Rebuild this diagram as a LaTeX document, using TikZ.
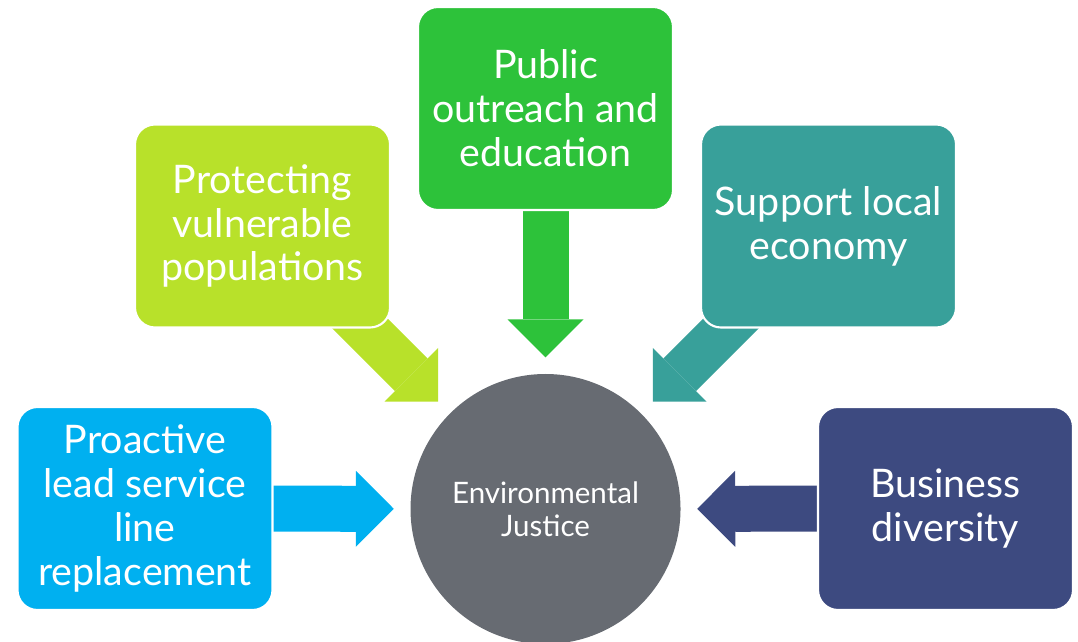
\documentclass[tikz,border=0pt]{standalone}
\usepackage{fontspec}
\setmainfont{Lato}
\usepackage{tikz}
\usetikzlibrary{positioning, calc}
\usetikzlibrary{arrows.meta, backgrounds}

\begin{document}
\begin{tikzpicture}
\definecolor{pubgreen}{RGB}{45,194,58};
\definecolor{limegreen}{RGB}{184,225,42};
\definecolor{teal2}{RGB}{56,160,154};
\definecolor{skyblue2}{RGB}{0,176,240};
\definecolor{navy2}{RGB}{61,74,128};
\definecolor{slate2}{RGB}{103,107,114};
\useasboundingbox (0,0) rectangle (10.78,6.41);
\tikzstyle{box}=[draw=white, line width=0.6pt, rounded corners=0.2cm,
                 minimum width=2.55cm, minimum height=2.03cm, inner sep=0pt,
                 text=white, align=center,
                 font=\fontsize{11.2}{12.5}\selectfont];
\tikzstyle{bigarrow}=[line width=0.46cm, shorten >=0.16cm,
                      -{Triangle[width=0.76cm, length=0.38cm, line width=0pt]}];
\node [box, fill=pubgreen]  (pub)  at (5.455,5.325) {Public\\outreach and\\education};
\node [box, fill=limegreen] (prot) at (2.625,4.15)  {Protecting\\vulnerable\\populations};
\node [box, fill=teal2]     (supp) at (8.285,4.15)  {Support local\\economy};
\node [box, fill=skyblue2]  (proa) at (1.45,1.325)  {Proactive\\lead service\\line\\replacement};
\node [box, fill=navy2]     (bus)  at (9.455,1.325) {Business\\diversity};
\node [circle, fill=slate2, minimum size=2.7cm, inner sep=0pt, text=white, align=center,
       font=\fontsize{8.4}{9.4}\selectfont] (ej) at (5.455,1.32) {Environmental\\Justice};
\begin{scope}[on background layer]
\draw [bigarrow, pubgreen]  (pub.center)  -- (ej);
\draw [bigarrow, limegreen] (prot.center) -- (ej);
\draw [bigarrow, teal2]     (supp.center) -- (ej);
\draw [bigarrow, skyblue2]  (proa.center) -- (ej);
\draw [bigarrow, navy2]     (bus.center)  -- (ej);
\end{scope}
\end{tikzpicture}
\end{document}
